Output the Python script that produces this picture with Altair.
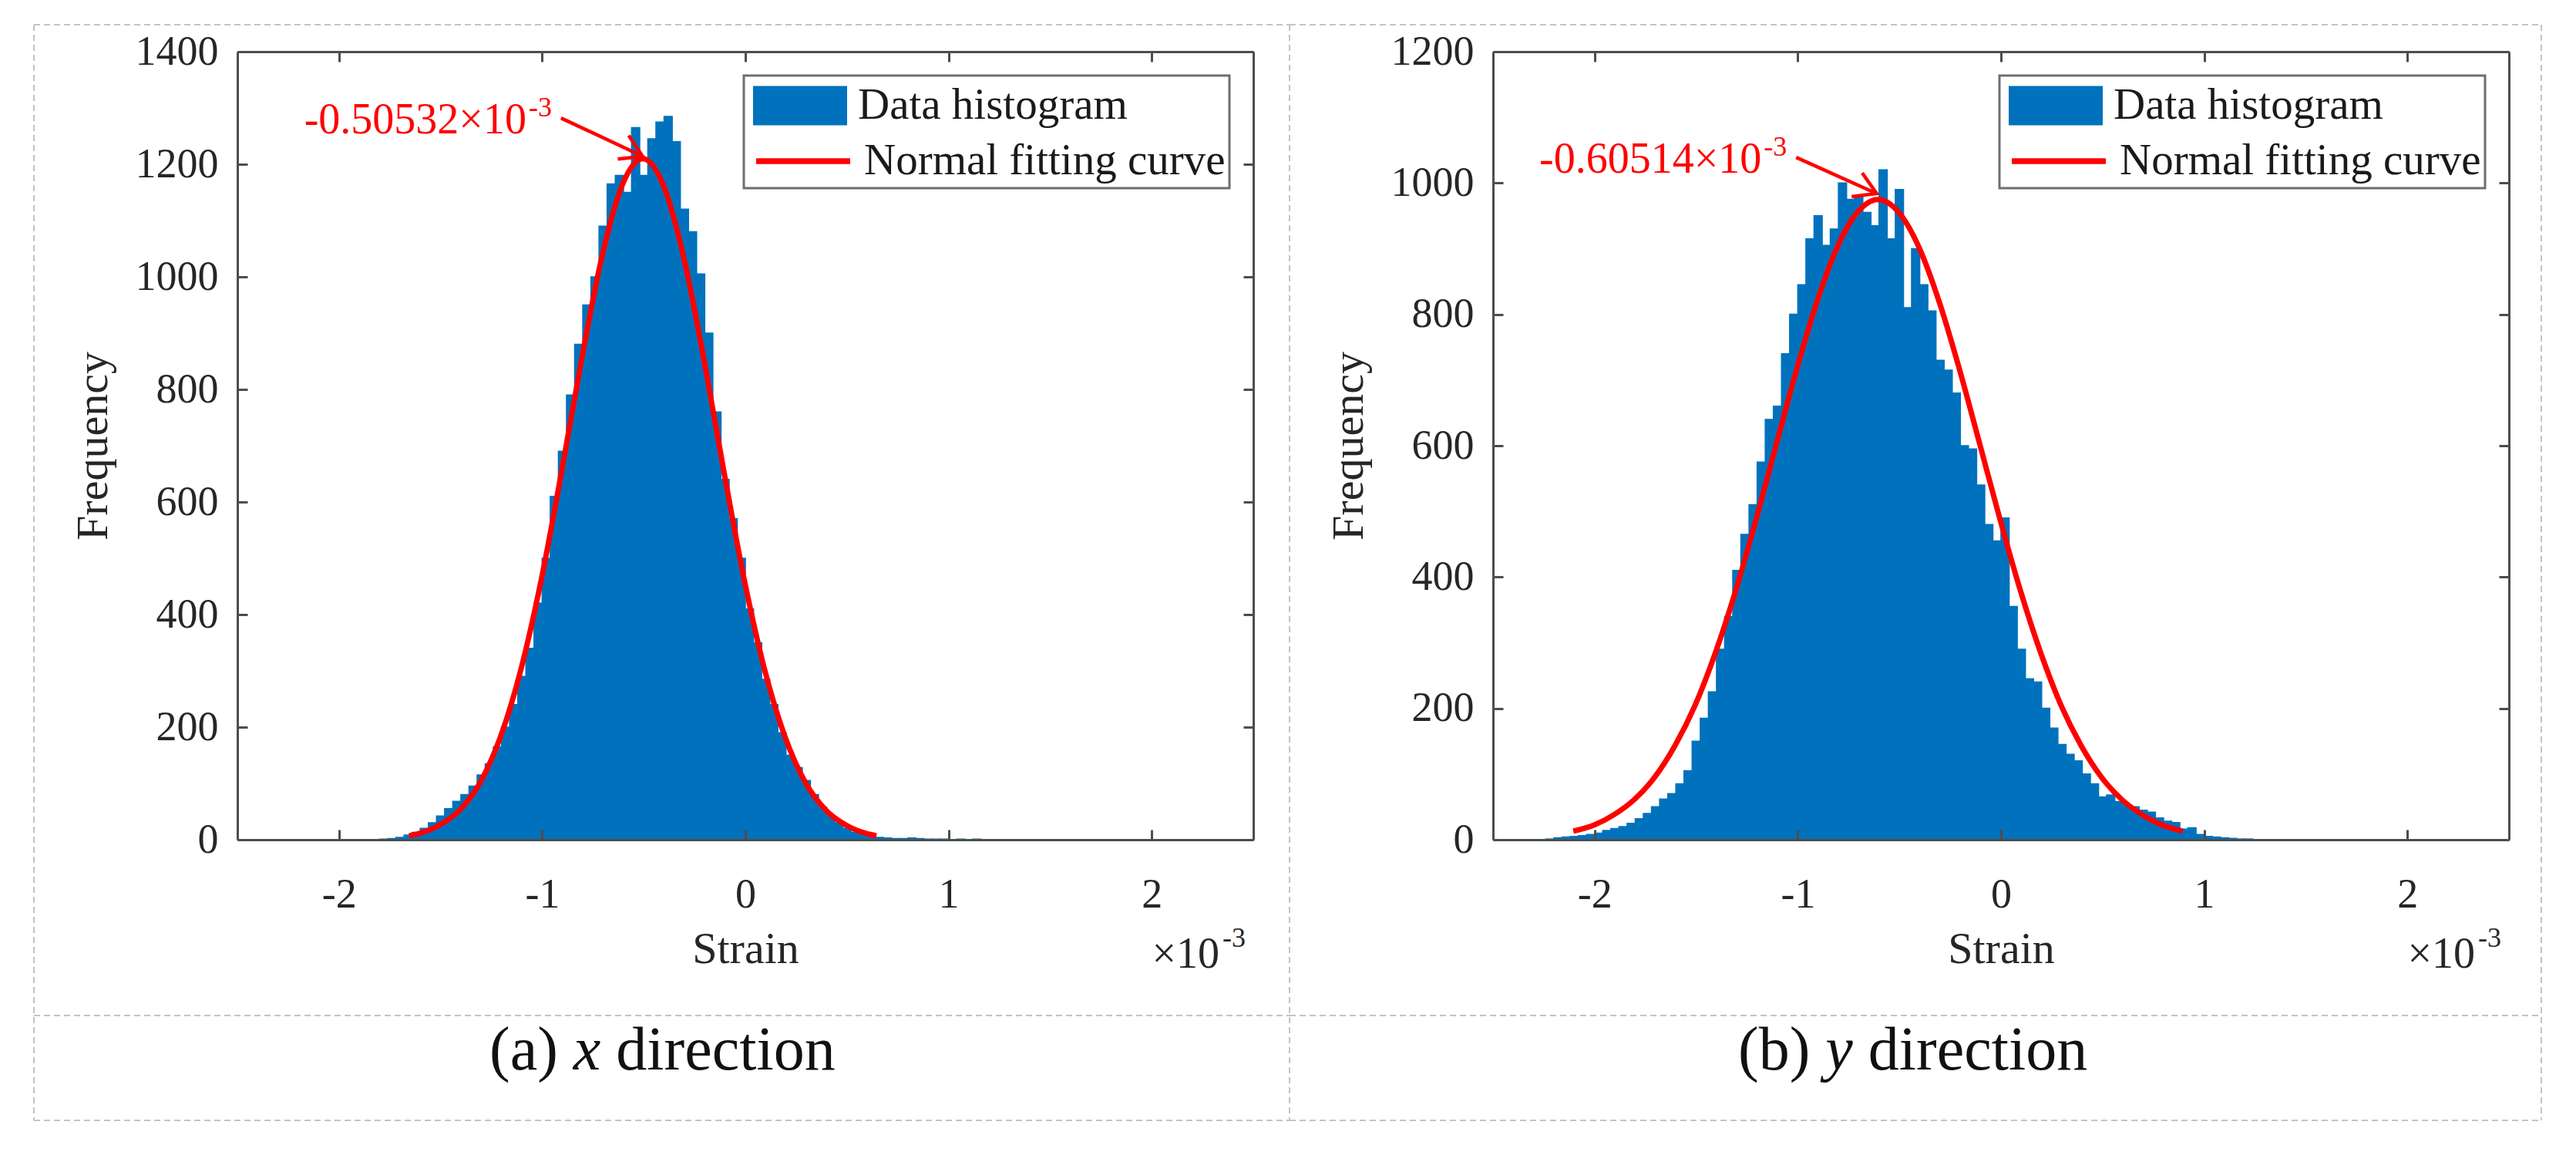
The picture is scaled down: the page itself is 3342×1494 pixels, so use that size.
import altair as alt
import pandas as pd

# strain is plotted in units of 1e-3; histogram bins are 0.04 wide
BIN = 0.04

# (a) x direction
x_hist_start = -1.80
x_hist_counts = [
    1, 2, 4, 8, 13, 20, 30, 42, 55, 68,
    80, 95, 115, 135, 165, 200, 240, 290, 340, 420,
    500, 610, 690, 790, 880, 950, 1000, 1090, 1165, 1180,
    1150, 1265, 1180, 1245, 1275, 1285, 1240, 1120, 1080, 1005,
    900, 760, 640, 570, 500, 410, 350, 285, 240, 190,
    150, 128, 105, 80, 58, 42, 30, 20, 13, 9,
    6, 4, 3, 2, 2, 3, 2, 1, 1, 1,
    0, 1, 0, 1, 0,
]
x_curve_strain = [-1.655, -1.605, -1.505, -1.405, -1.305, -1.205, -1.105, -1.005,
                  -0.905, -0.805, -0.705, -0.605, -0.505, -0.405, -0.305, -0.205,
                  -0.105, -0.005, 0.095, 0.195, 0.295, 0.395, 0.495, 0.595, 0.645]
x_curve_freq = [7, 11, 26, 53, 102, 183, 302, 461, 653, 855, 1037, 1164, 1210,
                1164, 1037, 855, 653, 461, 302, 183, 102, 53, 26, 11, 7]
x_peak_label = "-0.50532×10"

# (b) y direction
y_hist_start = -2.24
y_hist_counts = [
    1, 3, 4, 5, 6, 8, 10, 14, 17, 20,
    25, 32, 40, 50, 62, 70, 85, 105, 150, 185,
    225, 290, 340, 410, 465, 510, 575, 640, 660, 740,
    800, 845, 915, 950, 905, 930, 1000, 975, 980, 955,
    935, 1020, 915, 990, 810, 900, 845, 805, 730, 715,
    680, 600, 595, 540, 480, 455, 490, 355, 290, 245,
    240, 200, 170, 145, 130, 120, 100, 85, 65, 68,
    58, 52, 50, 45, 42, 33, 28, 26, 16, 18,
    8, 5, 4, 3, 2, 1, 1, 0,
]
y_curve_strain = [-2.105, -2.005, -1.905, -1.805, -1.705, -1.605, -1.505, -1.405,
                  -1.305, -1.205, -1.105, -1.005, -0.905, -0.805, -0.705, -0.605,
                  -0.505, -0.405, -0.305, -0.205, -0.105, -0.005, 0.095, 0.195,
                  0.295, 0.395, 0.495, 0.595, 0.695, 0.795, 0.895]
y_curve_freq = [13, 22, 38, 61, 95, 143, 205, 285, 380, 488, 603, 717, 820, 903,
                956, 975, 956, 903, 820, 717, 603, 488, 380, 285, 205, 143, 95,
                61, 38, 22, 13]
y_peak_label = "-0.60514×10"

FONT = "Liberation Serif"
INK = "#262626"
BLUE = "#0072BD"
RED = "#FF0000"
FRAME = "#c4c4c4"
W, H = 1318, 1022
TICKS_X = [-2, -1, 0, 1, 2]
ONE = pd.DataFrame({"k": [0]})

LEG = dict(title=None, orient="none", labelFont=FONT, labelFontSize=57,
           labelColor="#1a1a1a", labelLimit=1000, symbolSize=14884,
           labelOffset=14, padding=0)


def deco_rule(x, x2, y, y2):
    return alt.Chart(ONE).mark_rule(color=FRAME, strokeWidth=2, strokeDash=[8, 5]).encode(
        x=alt.value(x), x2=alt.value(x2), y=alt.value(y), y2=alt.value(y2)
    )


def deco_text(text, x, y, size, align="left", style="normal", color=INK):
    return alt.Chart(ONE).mark_text(
        text=text, align=align, baseline="alphabetic", font=FONT,
        fontSize=size, fontStyle=style, color=color,
    ).encode(x=alt.value(x), y=alt.value(y))


def panel(start, counts, cx, cy, ymax, tail, tip, tip_angle, peak_label,
          caption, first):
    hist = pd.DataFrame({"lo": [round(start + i * BIN, 2) for i in range(len(counts))],
                         "count": counts})
    hist["hi"] = hist["lo"] + BIN
    hist["series"] = "Data histogram"
    curve = pd.DataFrame({"strain": cx, "freq": cy})
    curve["series"] = "Normal fitting curve"
    arrow = pd.DataFrame({"strain": [tail[0], tip[0]], "freq": [tail[1], tip[1]]})
    tail_df = pd.DataFrame({"strain": [tail[0]], "freq": [tail[1]]})
    tip_df = pd.DataFrame({"strain": [tip[0]], "freq": [tip[1]]})

    xs = alt.Scale(domain=[-2.5, 2.5], nice=False, zero=False)
    ys = alt.Scale(domain=[0, ymax], nice=False)
    ticks_y = list(range(0, ymax + 1, 200))
    ax = dict(grid=False, tickSize={"expr": "-13"}, labelFlush=False,
              labelOverlap=False, zindex=1, labelExpr="'' + datum.value")

    bars = alt.Chart(hist).mark_rect(stroke=BLUE, strokeWidth=1.6).encode(
        x=alt.X("lo:Q", scale=xs, axis=alt.Axis(
            values=TICKS_X, title="Strain", labelPadding=57, titlePadding=15, **ax)),
        x2="hi:Q",
        y=alt.Y("count:Q", scale=ys, axis=alt.Axis(
            values=ticks_y, title="Frequency", labelPadding=38, titlePadding=25, **ax)),
        y2=alt.Y2Datum(0),
        fill=alt.Fill("series:N",
                      scale=alt.Scale(domain=["Data histogram"], range=[BLUE]),
                      legend=alt.Legend(symbolType="M-1,-0.42H1V0.42H-1Z",
                                        legendX=669, legendY=9,
                                        symbolStrokeWidth=0, **LEG)),
    )

    line = alt.Chart(curve).mark_line(strokeWidth=7, interpolate="monotone").encode(
        x=alt.X("strain:Q", scale=xs, axis=alt.Axis(
            orient="top", values=TICKS_X, labels=False, title=None, **ax)),
        y=alt.Y("freq:Q", scale=ys, axis=alt.Axis(
            orient="right", values=ticks_y, labels=False, title=None, **ax)),
        stroke=alt.Stroke("series:N",
                          scale=alt.Scale(domain=["Normal fitting curve"], range=[RED]),
                          legend=alt.Legend(symbolType="stroke", legendX=669, legendY=77,
                                            symbolStrokeWidth=7.5, **LEG)),
    )

    legend_box = alt.Chart(ONE).mark_rect(fill="white", stroke="#6e6e6e", strokeWidth=3).encode(
        x=alt.value(657), x2=alt.value(1287), y=alt.value(31), y2=alt.value(177)
    )

    pos = dict(x=alt.X("strain:Q", axis=None), y=alt.Y("freq:Q", axis=None))
    shaft = alt.Chart(arrow).mark_line(color=RED, strokeWidth=4.5).encode(**pos)
    head = alt.Chart(tip_df).mark_point(
        shape="M-1,-0.6L0,0L-1,0.6", size=3136, filled=False, stroke=RED,
        strokeWidth=4.5, opacity=1, angle=tip_angle,
    ).encode(**pos)
    ann = alt.Chart(tail_df).mark_text(
        text=peak_label, align="right", baseline="alphabetic", dx=-45, dy=20,
        font=FONT, fontSize=56, color=RED,
    ).encode(**pos)
    ann_sup = alt.Chart(tail_df).mark_text(
        text="-3", align="left", baseline="alphabetic", dx=-42, dy=-2,
        font=FONT, fontSize=36, color=RED,
    ).encode(**pos)

    right_edge = W + 47 if first else W + 42
    frame = [
        deco_rule(-264, -264, -35, 1386),
        deco_rule(-264, right_edge, -35, -35),
        deco_rule(-264, right_edge, 1250, 1250),
        deco_rule(-264, right_edge, 1386, 1386),
    ]
    if not first:
        frame.append(deco_rule(right_edge, right_edge, -35, 1386))

    # caption: tag, italic variable, "direction" (Times metrics at 80px)
    tag, var, x0 = caption
    tag_w = 88.8 if tag == "(a)" else 93.3
    cap = [
        deco_text(tag, x0, 1320, 80, color="#111111"),
        deco_text(var, x0 + tag_w + 20, 1320, 80, style="italic", color="#111111"),
        deco_text("direction", x0 + tag_w + 20 + 35.5 + 20, 1320, 80, color="#111111"),
    ]
    exponent = [
        deco_text("×10", W - 44, 1188, 56, align="right"),
        deco_text("-3", W - 40, 1161, 36),
    ]

    return alt.layer(
        *frame, bars, line, legend_box, shaft, head, ann, ann_sup, *cap, *exponent
    ).resolve_axis(x="independent", y="independent").properties(width=W, height=H)


left = panel(x_hist_start, x_hist_counts, x_curve_strain, x_curve_freq, 1400,
             (-0.907, 1282), (-0.505, 1214), 25, x_peak_label, ("(a)", "x", 327), True)
right = panel(y_hist_start, y_hist_counts, y_curve_strain, y_curve_freq, 1200,
              (-1.008, 1039), (-0.612, 984), 24, y_peak_label, ("(b)", "y", 318), False)

chart = (
    alt.hconcat(left, right, spacing=311, bounds="flush")
    .resolve_scale(x="independent", y="independent", fill="independent", stroke="independent")
    .properties(padding={"left": 35, "top": 23, "right": 5, "bottom": 5})
    .configure(font=FONT)
    .configure_view(stroke=None)
    .configure_axis(
        domainColor="#4d4d4d", domainWidth=3, tickColor="#4d4d4d", tickWidth=3,
        labelFont=FONT, labelFontSize=54, labelColor=INK,
        titleFont=FONT, titleFontSize=58, titleColor=INK, titleFontWeight="normal",
    )
)

chart.save("out.html", embed_options={"renderer": "svg", "actions": False})
